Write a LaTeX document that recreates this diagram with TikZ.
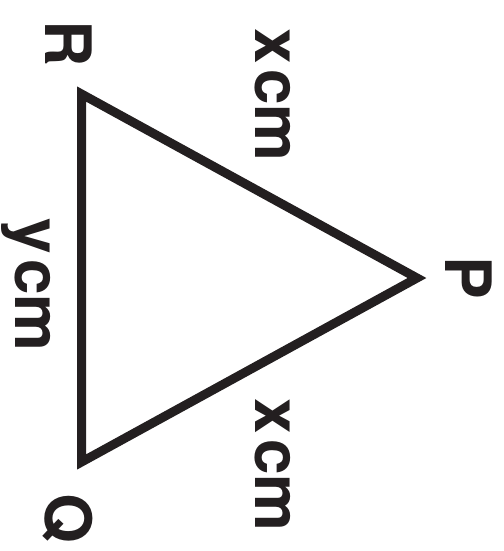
\documentclass[tikz,border=0pt]{standalone}
\usepackage{fontspec}
\setmainfont{TeX Gyre Heros}
\definecolor{ink}{HTML}{231F20}
\begin{document}
\begin{tikzpicture}[x=1pt,y=-1pt,
  lbl/.style={font=\fontsize{64}{64}\selectfont\bfseries, text=ink, inner sep=0pt, rotate=-90, anchor=base},
  edge/.style={draw=ink, line width=9pt, line join=miter}]
\useasboundingbox (0,0) rectangle (503,551);
\coordinate (R) at (81.5,94);
\coordinate (P) at (417,278);
\coordinate (Q) at (81.5,462);
\draw[edge] (R) -- (P) -- (Q) -- cycle;
\node[lbl] (lR) at (45,44) {R};
\node[lbl] (lP) at (445,278) {P};
\node[lbl] (lQ) at (45,518) {Q};
\node[lbl] (lx1) at (255,95) {x\kern5pt cm};
\node[lbl] (lx2) at (255,465) {x\kern5pt cm};
\node[lbl] (ly) at (15,285) {y\kern5pt cm};
\end{tikzpicture}
\end{document}
